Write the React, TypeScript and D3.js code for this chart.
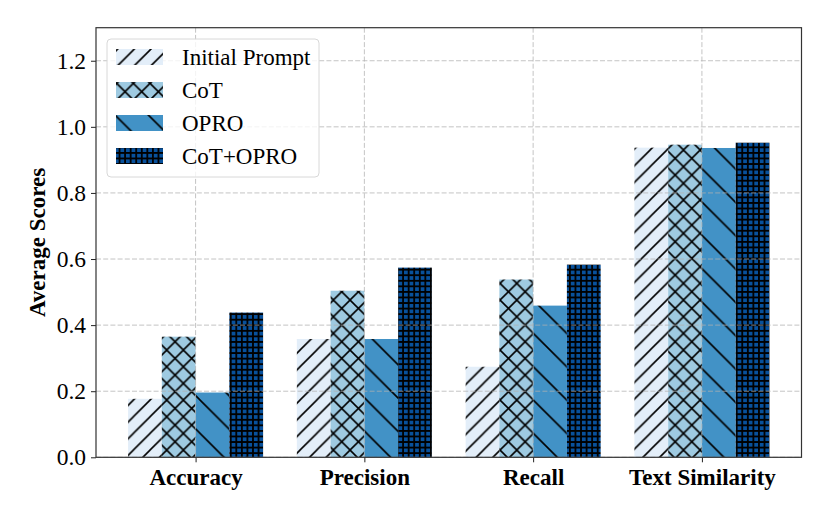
import React, { useEffect, useRef } from 'react';
import * as d3 from 'd3';

const categories = ['Accuracy', 'Precision', 'Recall', 'Text Similarity'];
const seriesNames = ['Initial Prompt', 'CoT', 'OPRO', 'CoT+OPRO'];
const initialPrompt = [0.177, 0.358, 0.274, 0.937];
const cot = [0.365, 0.504, 0.538, 0.946];
const opro = [0.196, 0.358, 0.459, 0.936];
const cotOpro = [0.438, 0.574, 0.583, 0.952];
const yTicks = [0, 0.2, 0.4, 0.6, 0.8, 1.0, 1.2];

const seriesValues = [initialPrompt, cot, opro, cotOpro];
const fills = ['#e3eef9', '#9ecae1', '#4292c6', '#08519c'];

const W = 830;
const H = 519;
const serif = '"Times New Roman", "Liberation Serif", "DejaVu Serif", serif';

const App: React.FC = () => {
  const svgRef = useRef<SVGSVGElement>(null);

  useEffect(() => {
    if (!svgRef.current) return;
    const svg = d3.select(svgRef.current);
    svg.selectAll('*').remove();

    const left = 96, right = 801.5, top = 27.7, bottom = 457.3;
    const barW = 0.2;

    const x = d3.scaleLinear().domain([-0.59, categories.length - 1 + 0.59]).range([left, right]);
    const y = d3.scaleLinear().domain([0, 1.3]).range([bottom, top]);

    // Hatch patterns
    const defs = svg.append('defs');
    const hatchW = 1.6;

    const mkPattern = (id: string, size: number, fill: string) => {
      const p = defs.append('pattern')
        .attr('id', id)
        .attr('patternUnits', 'userSpaceOnUse')
        .attr('width', size)
        .attr('height', size);
      p.append('rect').attr('width', size).attr('height', size).attr('fill', fill);
      return p;
    };

    // '/'
    const s0 = 16.67;
    mkPattern('hatch0', s0, fills[0])
      .append('path')
      .attr('d', `M0,${s0} L${s0},0 M${-s0 / 4},${s0 / 4} L${s0 / 4},${-s0 / 4} M${s0 * 0.75},${s0 * 1.25} L${s0 * 1.25},${s0 * 0.75}`)
      .attr('stroke', '#000').attr('stroke-width', hatchW);

    // 'x'
    const s1 = 16.67;
    mkPattern('hatch1', s1, fills[1])
      .append('path')
      .attr('d', `M0,${s1} L${s1},0 M${-s1 / 4},${s1 / 4} L${s1 / 4},${-s1 / 4} M${s1 * 0.75},${s1 * 1.25} L${s1 * 1.25},${s1 * 0.75}` +
        ` M0,0 L${s1},${s1} M${-s1 / 4},${s1 * 0.75} L${s1 / 4},${s1 * 1.25} M${s1 * 0.75},${-s1 / 4} L${s1 * 1.25},${s1 / 4}`)
      .attr('stroke', '#000').attr('stroke-width', hatchW);

    // '\'
    const s2 = 33.33;
    mkPattern('hatch2', s2, fills[2])
      .append('path')
      .attr('d', `M0,0 L${s2},${s2} M${-s2 / 4},${s2 * 0.75} L${s2 / 4},${s2 * 1.25} M${s2 * 0.75},${-s2 / 4} L${s2 * 1.25},${s2 / 4}`)
      .attr('stroke', '#000').attr('stroke-width', hatchW);

    // '+'
    const s3 = 5.56;
    mkPattern('hatch3', s3, fills[3])
      .append('path')
      .attr('d', `M0,${s3 / 2} L${s3},${s3 / 2} M${s3 / 2},0 L${s3 / 2},${s3}`)
      .attr('stroke', '#000').attr('stroke-width', 1.8);

    // Bars
    seriesValues.forEach((vals, j) => {
      svg.append('g')
        .selectAll('rect')
        .data(vals)
        .enter()
        .append('rect')
        .attr('x', (_, i) => x(i + (j - 1.5) * barW - barW / 2))
        .attr('y', d => y(d))
        .attr('width', x(barW) - x(0))
        .attr('height', d => y(0) - y(d))
        .attr('fill', `url(#hatch${j})`);
    });

    // Grid (drawn above bars, faint)
    const grid = svg.append('g')
      .attr('stroke', '#b0b0b0')
      .attr('stroke-opacity', 0.75)
      .attr('stroke-width', 1)
      .attr('stroke-dasharray', '5,2.2');
    grid.selectAll('.gy')
      .data(yTicks)
      .enter()
      .append('line')
      .attr('x1', left).attr('x2', right)
      .attr('y1', d => y(d)).attr('y2', d => y(d));
    grid.selectAll('.gx')
      .data(categories)
      .enter()
      .append('line')
      .attr('x1', (_, i) => x(i)).attr('x2', (_, i) => x(i))
      .attr('y1', top).attr('y2', bottom);

    // Axes
    const yAxis = svg.append('g')
      .attr('transform', `translate(${left},0)`)
      .call(d3.axisLeft(y).tickValues(yTicks).tickFormat(d3.format('.1f')).tickSize(5).tickPadding(5));
    yAxis.select('.domain').remove();
    yAxis.selectAll('text')
      .attr('font-family', serif)
      .attr('font-size', 23.5)
      .attr('fill', '#000');
    yAxis.selectAll('line').attr('stroke', '#222');

    const xAxis = svg.append('g')
      .attr('transform', `translate(0,${bottom})`)
      .call(d3.axisBottom(x).tickValues(categories.map((_, i) => i)).tickFormat((_, i) => categories[i]).tickSize(5).tickPadding(6));
    xAxis.select('.domain').remove();
    xAxis.selectAll('text')
      .attr('font-family', serif)
      .attr('font-size', 23)
      .attr('font-weight', 'bold')
      .attr('fill', '#000');
    xAxis.selectAll('line').attr('stroke', '#222');

    // Spines
    svg.append('rect')
      .attr('x', left).attr('y', top)
      .attr('width', right - left).attr('height', bottom - top)
      .attr('fill', 'none')
      .attr('stroke', '#333')
      .attr('stroke-width', 1.2);

    // Y label
    svg.append('text')
      .attr('transform', `translate(37,${(top + bottom) / 2}) rotate(-90)`)
      .attr('text-anchor', 'middle')
      .attr('dy', '0.35em')
      .attr('font-family', serif)
      .attr('font-size', 23)
      .attr('font-weight', 'bold')
      .text('Average Scores');

    // Legend
    const lg = svg.append('g');
    lg.append('rect')
      .attr('x', 107).attr('y', 39)
      .attr('width', 212).attr('height', 138)
      .attr('rx', 4)
      .attr('fill', '#fff')
      .attr('fill-opacity', 0.8)
      .attr('stroke', '#d8d8d8')
      .attr('stroke-width', 1);
    seriesNames.forEach((name, j) => {
      const cy = 57 + j * 33;
      lg.append('rect')
        .attr('x', 116).attr('y', cy - 8)
        .attr('width', 47).attr('height', 16)
        .attr('fill', `url(#hatch${j})`);
      lg.append('text')
        .attr('x', 182).attr('y', cy + 8)
        .attr('font-family', serif)
        .attr('font-size', 23)
        .attr('fill', '#000')
        .text(name);
    });
  }, []);

  return (
    <div style={{ position: 'fixed', left: 0, top: 0 }}>
      <svg ref={svgRef} width={W} height={H} style={{ display: 'block', background: '#fff' }} />
    </div>
  );
};

export default App;
